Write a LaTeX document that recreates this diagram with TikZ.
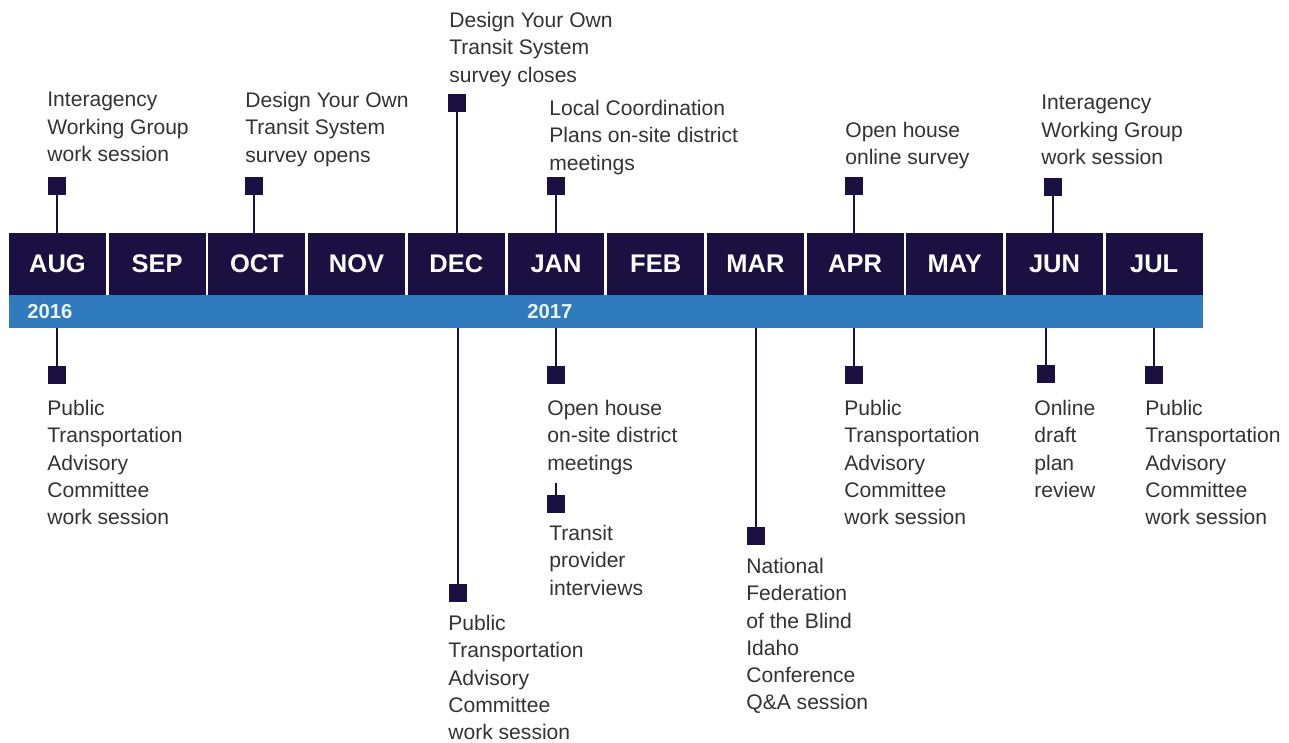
\documentclass[tikz,border=0pt]{standalone}
\usepackage{fontspec}
\setmainfont{Liberation Sans}
\definecolor{navy}{HTML}{1A1142}
\definecolor{barblue}{HTML}{2F7BBE}
\definecolor{txt}{HTML}{333333}
\tikzset{
  month/.style={fill=navy, text=white, minimum width=1.94cm, minimum height=1.24cm, inner sep=0pt, font=\fontsize{14.5}{16}\selectfont\bfseries},
  yearbar/.style={fill=barblue, minimum width=23.88cm, minimum height=0.66cm, inner sep=0pt},
  year/.style={text=white!92!barblue, anchor=west, inner sep=0pt, font=\fontsize{11.5}{13}\selectfont\bfseries},
  evt/.style={fill=navy, minimum size=0.36cm, inner sep=0pt},
  lbl/.style={anchor=north west, align=left, inner sep=0pt, text=txt, font=\fontsize{12}{15.5}\selectfont},
  tick/.style={draw=navy, line width=1.1pt}
}
\begin{document}
\begin{tikzpicture}[x=0.02cm,y=-0.02cm]
  \useasboundingbox (0,0) rectangle (1289,743);

  % months and year bar
  \foreach \m/\n [count=\i from 0] in {AUG/aug,SEP/sep,OCT/oct,NOV/nov,DEC/dec,JAN/jan,FEB/feb,MAR/mar,APR/apr,MAY/may,JUN/jun,JUL/jul}
    \node[month] (\n) at ({57.5+99.7*\i},264) {\m};
  \node[yearbar] (bar) at (606,311.5) {};
  \node[year] (y16) at (27,312) {2016};
  \node[year] (y17) at (527,312) {2017};

  % events above
  \node[evt] (iwgA) at (57,186) {};
  \node[evt] (dyoOpen) at (254,186) {};
  \node[evt] (dyoClose) at (457,103) {};
  \node[evt] (lcp) at (556,186) {};
  \node[evt] (ohOnline) at (854,186) {};
  \node[evt] (iwgB) at (1053,187) {};

  \draw[tick] (iwgA) -- (iwgA |- aug.north);
  \draw[tick] (dyoOpen) -- (dyoOpen |- oct.north);
  \draw[tick] (dyoClose) -- (dyoClose |- dec.north);
  \draw[tick] (lcp) -- (lcp |- jan.north);
  \draw[tick] (ohOnline) -- (ohOnline |- apr.north);
  \draw[tick] (iwgB) -- (iwgB |- jun.north);

  \node[lbl] at (47,92) {Interagency\\Working Group\\work session};
  \node[lbl] at (245,92) {Design Your Own\\Transit System\\survey opens};
  \node[lbl] at (449,12) {Design Your Own\\Transit System\\survey closes};
  \node[lbl] at (549,100) {Local Coordination\\Plans on-site district\\meetings};
  \node[lbl] at (845,122) {Open house\\online survey};
  \node[lbl] at (1041,95) {Interagency\\Working Group\\work session};

  % events below
  \node[evt] (ptacA) at (57,375) {};
  \node[evt] (ptacB) at (458,593) {};
  \node[evt] (ohSite) at (556,375) {};
  \node[evt] (tpi) at (556,504) {};
  \node[evt] (nfb) at (756,536) {};
  \node[evt] (ptacC) at (854,375) {};
  \node[evt] (draft) at (1046,374) {};
  \node[evt] (ptacD) at (1154,375) {};

  \draw[tick] (ptacA) -- (ptacA |- bar.south);
  \draw[tick] (ptacB) -- (ptacB |- bar.south);
  \draw[tick] (ohSite) -- (ohSite |- bar.south);
  \coordinate (tpiTop) at (556,483);
  \draw[tick] (tpi) -- (tpiTop);
  \draw[tick] (nfb) -- (nfb |- bar.south);
  \draw[tick] (ptacC) -- (ptacC |- bar.south);
  \draw[tick] (draft) -- (draft |- bar.south);
  \draw[tick] (ptacD) -- (ptacD |- bar.south);

  \node[lbl] at (47,400) {Public\\Transportation\\Advisory\\Committee\\work session};
  \node[lbl] at (448,615) {Public\\Transportation\\Advisory\\Committee\\work session};
  \node[lbl] at (547,400) {Open house\\on-site district\\meetings};
  \node[lbl] at (549,525) {Transit\\provider\\interviews};
  \node[lbl] at (746,558) {National\\Federation\\of the Blind\\Idaho\\Conference\\Q\&A session};
  \node[lbl] at (844,400) {Public\\Transportation\\Advisory\\Committee\\work session};
  \node[lbl] at (1034,400) {Online\\draft\\plan\\review};
  \node[lbl] at (1145,400) {Public\\Transportation\\Advisory\\Committee\\work session};
\end{tikzpicture}
\end{document}
